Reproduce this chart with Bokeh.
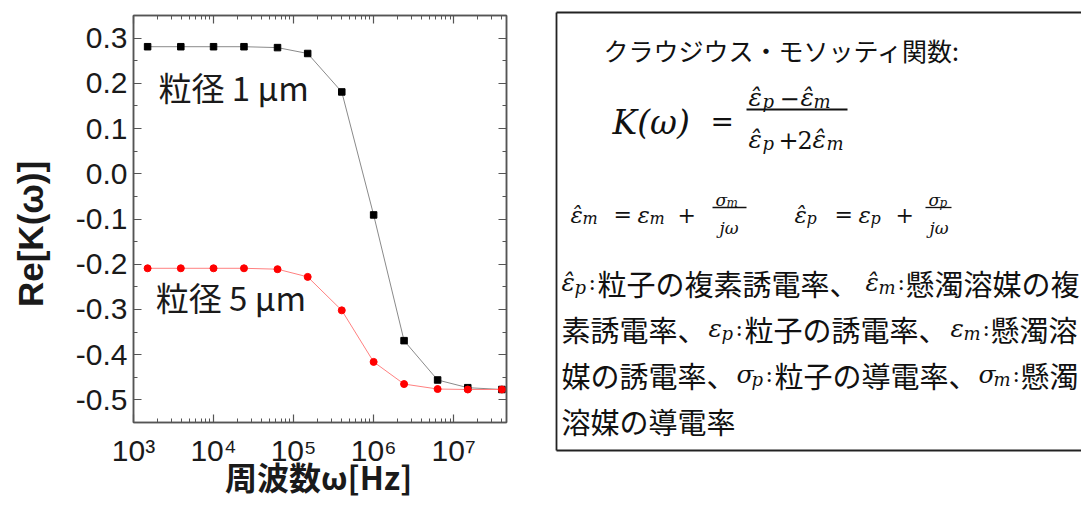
import math
from bokeh.plotting import figure
from bokeh.models import (Range1d, LinearAxis, LogAxis, FixedTicker, SingleIntervalTicker,
                          PrintfTickFormatter, Label)
from bokeh.layouts import row
from bokeh.embed import file_html
from bokeh.resources import INLINE
from bokeh.core.properties import value

# ---------------- data ----------------
freq_hz = [1500, 3900, 10000, 24000, 63000, 150000, 400000,
           1000000, 2400000, 6300000, 15000000, 40000000]
re_k_1um = [0.281, 0.281, 0.281, 0.281, 0.279, 0.266, 0.181,
            -0.091, -0.369, -0.456, -0.473, -0.477]
re_k_5um = [-0.209, -0.209, -0.209, -0.209, -0.211, -0.228, -0.302,
            -0.416, -0.465, -0.476, -0.477, -0.477]
x_major_ticks = [1000, 10000, 100000, 1000000, 10000000]
x_tick_labels = ["10³", "10⁴", "10⁵", "10⁶", "10⁷"]
series_labels = ["粒径 1 μm", "粒径 5 μm"]
x_label = "周波数ω[Hz]"
y_label = "Re[K(ω)]"

AX = "#555555"
CJK = "Noto Sans CJK JP"
MATH = "DejaVu Serif"
XMAX = 45700000
H_TOTAL = 502
FRAME_TOP, FRAME_BOTTOM = 15, 422

# ---------------- left chart ----------------
p = figure(width=540, height=H_TOTAL, x_axis_type="log",
           x_range=Range1d(1000, XMAX), y_range=Range1d(-0.55, 0.35),
           output_backend="svg", toolbar_location=None,
           min_border_left=133, min_border_right=34, min_border_top=FRAME_TOP,
           min_border_bottom=H_TOTAL - FRAME_BOTTOM)
p.grid.visible = False
p.outline_line_color = AX
p.outline_line_width = 1.5

minor_x = [m * 10 ** e for e in range(3, 8) for m in range(2, 10) if m * 10 ** e < XMAX]
xticker = FixedTicker(ticks=x_major_ticks, minor_ticks=minor_x)
yticker = SingleIntervalTicker(interval=0.1, num_minor_ticks=2)

top = LogAxis()
right = LinearAxis()
p.add_layout(top, "above")
p.add_layout(right, "right")

for ax in p.xaxis:
    ax.ticker = xticker
for ax in p.yaxis:
    ax.ticker = yticker

for ax in list(p.xaxis) + list(p.yaxis):
    ax.axis_line_color = AX
    ax.axis_line_width = 1.5
    ax.major_tick_line_color = AX
    ax.minor_tick_line_color = AX
    ax.major_tick_line_width = 1.2
    ax.minor_tick_line_width = 1.0
    ax.major_tick_in = 8
    ax.major_tick_out = 0
    ax.minor_tick_in = 4
    ax.minor_tick_out = 0
    ax.major_label_text_font = "Liberation Sans"
    ax.major_label_text_font_size = "30px"
    ax.major_label_text_color = "#1a1a1a"

for ax in (top, right):
    ax.major_label_text_font_size = "1px"
    ax.major_label_text_alpha = 0
    ax.major_label_standoff = 0

bx = p.below[0]
bx.major_label_overrides = {t: s for t, s in zip(x_major_ticks, x_tick_labels)}
bx.major_label_standoff = 11

ly = p.left[0]
ly.formatter = PrintfTickFormatter(format="%.1f")
ly.major_label_standoff = 6

p.line(freq_hz, re_k_1um, line_color="#8a8a8a", line_width=1)
p.scatter(freq_hz, re_k_1um, marker="square", size=6.5, fill_color="black", line_color="black")
p.line(freq_hz, re_k_5um, line_color="#ff8080", line_width=1)
p.scatter(freq_hz, re_k_5um, marker="circle", size=7, fill_color="red", line_color="red")

p.add_layout(Label(x=2050, y=0.192, text=series_labels[0], text_baseline="middle",
                   text_font=CJK, text_font_size="33px", text_color="#1a1a1a"))
p.add_layout(Label(x=1890, y=-0.272, text=series_labels[1], text_baseline="middle",
                   text_font=CJK, text_font_size="33px", text_color="#1a1a1a"))

# axis titles drawn as unclipped text glyphs
p.text(x=[10 ** 5.3125], y=[-0.668], text=[x_label], text_align="center",
       text_baseline="middle", text_font=value(CJK), text_font_style="bold",
       text_font_size="32px", text_color="#1a1a1a", level="overlay")
p.text(x=[10 ** 1.7125], y=[-0.133], text=[y_label], angle=math.pi / 2,
       text_align="center", text_baseline="middle", text_font=value("Liberation Sans"),
       text_font_style="bold", text_font_size="35px", text_color="#1a1a1a",
       level="overlay")

# ---------------- right text box ----------------
# frame of this plot is aligned to the chart frame (15..422), so data == pixel coords
q = figure(width=541, height=H_TOTAL, x_range=Range1d(540, 1081),
           y_range=Range1d(FRAME_BOTTOM, FRAME_TOP),
           output_backend="svg", toolbar_location=None, min_border=0,
           x_axis_location=None, y_axis_location=None)
q.grid.visible = False
q.outline_line_color = None

q.multi_line(xs=[[556, 556], [556, 1120], [556, 1120]], ys=[[12, 450], [12, 12], [450, 450]],
             line_color="#222222", line_width=1.8, level="overlay")

H = "ε\u0302"
# (x, baseline y, text, size px, style, font)
runs = [
    (603, 49, "クラウジウス・モソッティ関数:", 25, "normal", CJK),
    # K(w) = fraction
    (612, 122, "K(ω)", 33, "italic", MATH),
    (710, 121, "=", 28, "normal", MATH),
    (748, 97, H, 25, "italic", MATH), (762, 101, "p", 18, "italic", MATH),
    (779, 97, "−", 24, "normal", MATH),
    (800, 97, H, 25, "italic", MATH), (813, 101, "m", 18, "italic", MATH),
    (748, 139, H, 25, "italic", MATH), (762, 143, "p", 18, "italic", MATH),
    (778, 139, "+", 24, "normal", MATH), (797, 139, "2", 24, "normal", MATH),
    (812, 139, H, 25, "italic", MATH), (826, 143, "m", 18, "italic", MATH),
    # line 3
    (570, 214, H, 23, "italic", MATH), (582, 218, "m", 16, "italic", MATH),
    (613, 214, "=", 22, "normal", MATH),
    (637, 214, "ε", 23, "italic", MATH), (649, 218, "m", 16, "italic", MATH),
    (677, 214, "+", 22, "normal", MATH),
    (715, 199, "σ", 17, "italic", MATH), (726, 202, "m", 12, "italic", MATH),
    (719, 227, "jω", 17, "italic", MATH),
    (794, 214, H, 23, "italic", MATH), (806, 218, "p", 16, "italic", MATH),
    (834, 214, "=", 22, "normal", MATH),
    (858, 214, "ε", 23, "italic", MATH), (870, 218, "p", 16, "italic", MATH),
    (895, 214, "+", 22, "normal", MATH),
    (928, 199, "σ", 17, "italic", MATH), (939, 202, "p", 12, "italic", MATH),
    (929, 227, "jω", 17, "italic", MATH),
    # line 4
    (561, 282, H, 25, "italic", MATH), (574, 287, "p", 18, "italic", MATH),
    (588, 282, ":", 22, "normal", MATH),
    (597, 282, "粒子の複素誘電率、", 29, "normal", CJK),
    (865, 282, H, 25, "italic", MATH), (878, 287, "m", 18, "italic", MATH),
    (897, 282, ":", 22, "normal", MATH),
    (905, 282, "懸濁溶媒の複", 29, "normal", CJK),
    # line 5
    (561, 328, "素誘電率、", 29, "normal", CJK),
    (708, 328, "ε", 25, "italic", MATH), (721, 333, "p", 18, "italic", MATH),
    (735, 328, ":", 22, "normal", MATH),
    (744, 328, "粒子の誘電率、", 29, "normal", CJK),
    (950, 328, "ε", 25, "italic", MATH), (963, 333, "m", 18, "italic", MATH),
    (982, 328, ":", 22, "normal", MATH),
    (990, 328, "懸濁溶", 29, "normal", CJK),
    # line 6
    (561, 374, "媒の誘電率、", 29, "normal", CJK),
    (736, 374, "σ", 25, "italic", MATH), (751, 379, "p", 18, "italic", MATH),
    (765, 374, ":", 22, "normal", MATH),
    (774, 374, "粒子の導電率、", 29, "normal", CJK),
    (978, 374, "σ", 25, "italic", MATH), (993, 379, "m", 18, "italic", MATH),
    (1012, 374, ":", 22, "normal", MATH),
    (1020, 374, "懸濁", 29, "normal", CJK),
    # line 7
    (561, 420, "溶媒の導電率", 29, "normal", CJK),
]
for x, y, t, s, st, f in runs:
    q.text(x=[x], y=[y], text=[t], text_font=value(f), text_font_size=f"{s}px",
           text_font_style=st, text_baseline="alphabetic", text_align="left",
           text_color="#111111", level="overlay")

# fraction bars
q.segment(x0=[746, 712, 925], y0=[109, 207, 207], x1=[847, 746, 951], y1=[109, 207, 207],
          line_color="#111111", line_width=[2.2, 1.3, 1.3], level="overlay")

layout = row(p, q)
open("out.html", "w").write(file_html(layout, INLINE))
